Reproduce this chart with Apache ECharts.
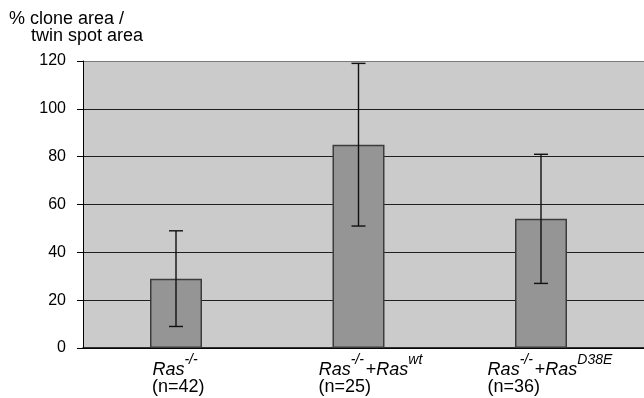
<!DOCTYPE html>
<html>
<head>
<meta charset="utf-8">
<script src="https://cdn.jsdelivr.net/npm/echarts@6/dist/echarts.min.js"></script>
<style>html,body{margin:0;padding:0;background:#fff;}#c{width:644px;height:398px;}</style>
</head>
<body>
<div id="c"></div>
<script>
// ---- data ----
const baseGene = ['Ras', 'Ras', 'Ras'];
const baseSup = ['-/-', '-/-', '-/-'];
const addGene = ['', 'Ras', 'Ras'];
const addSup = ['', 'wt', 'D38E'];
const nCounts = [42, 25, 36];
const meanValues = [29, 85, 54];
const errLow = [9, 51, 27];
const errHigh = [49, 119, 81];
const yMin = 0, yMax = 120, yStep = 20;
const titleLines = ['% clone area /', 'twin spot area'];

// ---- layout (not data) ----
const labelShift = [0, 13, 10];

const FONT = '"Liberation Sans", Arial, Helvetica, sans-serif';
const categories = baseGene.map((g, i) => g + baseSup[i] + (addGene[i] ? '+' + addGene[i] + addSup[i] : ''));

const cv = document.createElement('canvas').getContext('2d');
function tw(t, f) { cv.font = f; return cv.measureText(t).width; }
const widths = baseGene.map((g, i) => {
  let w = tw(g, 'italic 18px ' + FONT) + tw(baseSup[i], 'italic 14px ' + FONT) + 2;
  if (addGene[i]) w += tw('+', '18px ' + FONT) + tw(addGene[i], 'italic 18px ' + FONT) + tw(addSup[i], 'italic 14px ' + FONT) + 2;
  return Math.ceil(w);
});

const rich = {
  it: { fontFamily: FONT, fontStyle: 'italic', fontSize: 18, lineHeight: 18, verticalAlign: 'bottom', color: '#000' },
  pl: { fontFamily: FONT, fontSize: 18, lineHeight: 18, verticalAlign: 'bottom', color: '#000' },
  sup: { fontFamily: FONT, fontStyle: 'italic', fontSize: 14, lineHeight: 26, verticalAlign: 'top', color: '#000', padding: [0, 2, 0, 0] }
};
widths.forEach((w, i) => {
  rich['f' + i] = { fontFamily: FONT, fontStyle: 'italic', fontSize: 18, lineHeight: 18, verticalAlign: 'bottom', color: '#000',
                    padding: [0, 0, 0, labelShift[i] * 2] };
  rich['n' + i] = { fontFamily: FONT, fontSize: 18, lineHeight: 17, width: w, align: 'left', color: '#000',
                    padding: [0, 0, 0, labelShift[i] * 2] };
});

const chart = echarts.init(document.getElementById('c'), null, { renderer: 'canvas' });
const splitColors = [];
for (let v = yMin; v <= yMax; v += yStep) splitColors.push(v === yMax ? '#7a7a7a' : '#1e1e1e');

chart.setOption({
  animation: false,
  title: [
    { text: titleLines[0], left: 9, top: 10, padding: 0, textStyle: { fontFamily: FONT, fontSize: 18, fontWeight: 'normal', color: '#000' } },
    { text: titleLines[1], left: 31, top: 27, padding: 0, textStyle: { fontFamily: FONT, fontSize: 18, fontWeight: 'normal', color: '#000' } }
  ],
  grid: [
    { left: 83, right: 0, top: 61, bottom: 50, show: true, backgroundColor: '#cbcbcb', borderWidth: 0 },
    { left: 84.75, width: 547.5, top: 61, bottom: 50 }
  ],
  xAxis: [
    { gridIndex: 0, type: 'value', min: 0, max: 1, axisLine: { show: true, onZero: false, lineStyle: { color: '#000', width: 1.5 } },
      axisTick: { show: false }, axisLabel: { show: false }, splitLine: { show: false } },
    { gridIndex: 1, type: 'category', data: categories, axisLine: { show: false }, axisTick: { show: false },
      axisLabel: {
        margin: 5, interval: 0,
        formatter: function (val, idx) {
          let s = '{f' + idx + '|' + baseGene[idx] + '}{sup|' + baseSup[idx] + '}';
          if (addGene[idx]) s += '{pl|+}{it|' + addGene[idx] + '}{sup|' + addSup[idx] + '}';
          s += '\n{n' + idx + '|(n=' + nCounts[idx] + ')}';
          return s;
        },
        rich: rich
      } }
  ],
  yAxis: [
    { gridIndex: 0, type: 'value', min: yMin, max: yMax, interval: yStep,
      axisLine: { show: true, lineStyle: { color: '#000', width: 1 } },
      axisTick: { show: true, length: 6, lineStyle: { color: '#000' } },
      axisLabel: { margin: 17, fontFamily: FONT, fontSize: 16, color: '#000' },
      splitLine: { show: true, lineStyle: { color: splitColors, width: 1.2 } } },
    { gridIndex: 1, type: 'value', min: yMin, max: yMax, show: false, splitLine: { show: false } }
  ],
  series: [
    { type: 'bar', xAxisIndex: 1, yAxisIndex: 1, data: meanValues, barWidth: 52,
      itemStyle: { color: '#959596', borderColor: '#3c3c3c', borderWidth: 1.5 }, z: 3 },
    { type: 'custom', xAxisIndex: 1, yAxisIndex: 1, z: 5,
      data: meanValues.map((m, i) => [i, errLow[i], errHigh[i]]),
      renderItem: function (params, api) {
        const lo = api.coord([api.value(0), api.value(1)]);
        const hi = api.coord([api.value(0), api.value(2)]);
        const hw = 7;
        const st = { stroke: '#111', lineWidth: 1.4 };
        return { type: 'group', children: [
          { type: 'line', shape: { x1: lo[0], y1: lo[1], x2: hi[0], y2: hi[1] }, style: st },
          { type: 'line', shape: { x1: lo[0] - hw, y1: lo[1], x2: lo[0] + hw, y2: lo[1] }, style: st },
          { type: 'line', shape: { x1: hi[0] - hw, y1: hi[1], x2: hi[0] + hw, y2: hi[1] }, style: st }
        ] };
      } }
  ]
});
</script>
</body>
</html>
